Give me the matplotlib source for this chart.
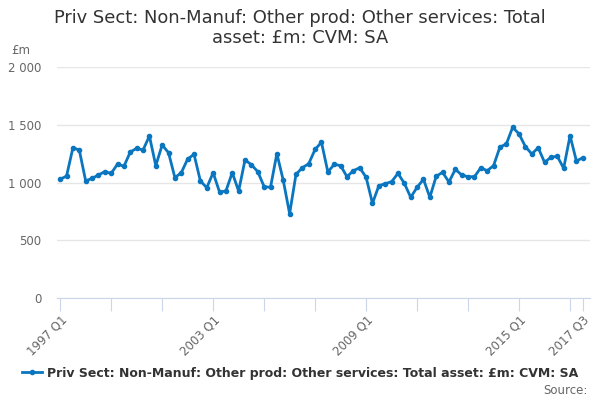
import matplotlib
matplotlib.use('Agg')
import matplotlib.pyplot as plt
from matplotlib.ticker import FuncFormatter

# quarterly data, 1997 Q1 .. 2017 Q3
values = [
    1028, 1056, 1301, 1281, 1013, 1036, 1065, 1094, 1079, 1160, 1140, 1264,
    1296, 1281, 1403, 1146, 1325, 1258, 1042, 1085, 1203, 1244, 1013, 955,
    1085, 918, 926, 1085, 926, 1195, 1154, 1094, 964, 958, 1250, 1019,
    730, 1071, 1128, 1163, 1287, 1348, 1091, 1157, 1146, 1050, 1102, 1128,
    1045, 820, 972, 990, 1007, 1079, 993, 872, 958, 1028, 872, 1054,
    1088, 1004, 1114, 1065, 1050, 1050, 1128, 1102, 1146, 1307, 1333, 1478,
    1420, 1310, 1247, 1301, 1175, 1218, 1227, 1123, 1405, 1186, 1215,
]
quarters = ['%d Q%d' % (1997 + i // 4, i % 4 + 1) for i in range(len(values))]
tick_labels = ['1997 Q1', '2003 Q1', '2009 Q1', '2015 Q1', '2017 Q3']
minor_labels = ['%d Q1' % y for y in range(1997, 2018, 2)] + ['2017 Q3']
series_name = 'Priv Sect: Non-Manuf: Other prod: Other services: Total asset: £m: CVM: SA'

fig = plt.figure(figsize=(6, 4), dpi=100)
ax = fig.add_axes([0.095, 0.255, 0.888, 0.5775])

x = list(range(len(values)))
line, = ax.plot(x, values, color='#0a76c0', linewidth=2, marker='o', markersize=3,
                label=series_name)

ax.set_ylim(0, 2000)
ax.set_xlim(-0.5, 83.1)
ax.set_yticks([0, 500, 1000, 1500, 2000])
ax.yaxis.set_major_formatter(FuncFormatter(lambda v, p: '{:,.0f}'.format(v).replace(',', ' ')))
ax.grid(axis='y', color='#e6e6e6', linewidth=1)
ax.set_axisbelow(True)

tick_pos = [quarters.index(q) for q in minor_labels]
ax.set_xticks(tick_pos)
ax.set_xticklabels([q if q in tick_labels else '' for q in minor_labels],
                   rotation=45, ha='right', rotation_mode='anchor')
ax.tick_params(axis='x', colors='#ccd6eb', labelcolor='#666666', length=9, labelsize=8.5, pad=2)
ax.tick_params(axis='y', length=0, labelcolor='#666666', labelsize=8.5, pad=11)

for s in ['top', 'right', 'left']:
    ax.spines[s].set_visible(False)
ax.spines['bottom'].set_color('#ccd6eb')

fig.text(0.5, 0.978, 'Priv Sect: Non-Manuf: Other prod: Other services: Total\nasset: £m: CVM: SA',
         ha='center', va='top', fontsize=12.9, color='#333333', linespacing=1.18)
fig.text(0.018, 0.865, '£m', fontsize=8.5, color='#666666')

fig.legend(handles=[line], loc='center', bbox_to_anchor=(0.5, 0.067), frameon=False,
           prop={'weight': 'bold', 'size': 9}, handlelength=1.6, labelcolor='#333333',
           handletextpad=0.4)
fig.text(0.98, 0.025, 'Source:', ha='right', va='center', fontsize=8.5, color='#666666')

fig.savefig('out.png', dpi=100)
